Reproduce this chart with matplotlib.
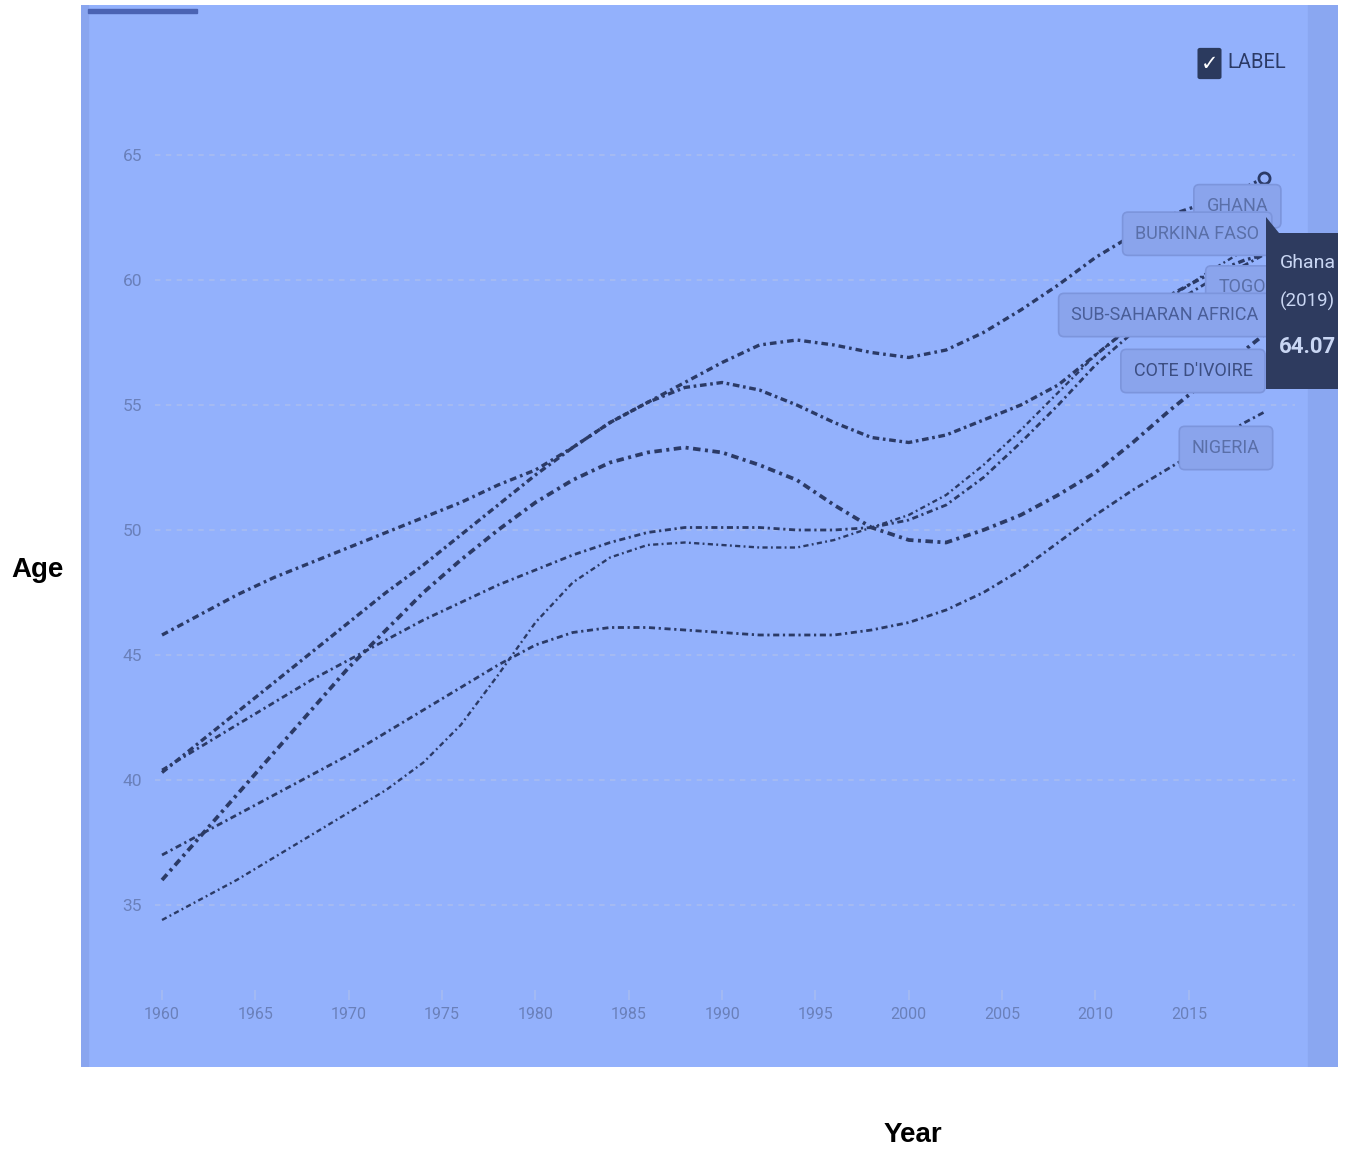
import matplotlib
matplotlib.use("Agg")
import matplotlib.pyplot as plt
from matplotlib.patches import Rectangle, Polygon, FancyBboxPatch

# --- Data (life expectancy, years) ---
years = [1960, 1962, 1964, 1966, 1968, 1970, 1972, 1974, 1976, 1978,
         1980, 1982, 1984, 1986, 1988, 1990, 1992, 1994, 1996, 1998,
         2000, 2002, 2004, 2006, 2008, 2010, 2012, 2014, 2016, 2018, 2019]

ghana = [45.8, 46.6, 47.4, 48.1, 48.7, 49.3, 49.9, 50.5, 51.1, 51.8,
         52.4, 53.3, 54.3, 55.1, 55.9, 56.7, 57.4, 57.6, 57.4, 57.1,
         56.9, 57.2, 57.9, 58.8, 59.8, 60.9, 61.8, 62.6, 63.1, 63.7, 64.07]
togo = [40.3, 41.5, 42.7, 43.9, 45.1, 46.3, 47.5, 48.6, 49.8, 51.0,
        52.2, 53.3, 54.3, 55.1, 55.7, 55.9, 55.6, 55.0, 54.3, 53.7,
        53.5, 53.8, 54.4, 55.0, 55.8, 57.0, 58.2, 59.4, 60.2, 60.8, 61.0]
cote_divoire = [36.0, 37.7, 39.4, 41.1, 42.8, 44.5, 46.0, 47.5, 48.8, 50.0,
                51.1, 52.0, 52.7, 53.1, 53.3, 53.1, 52.6, 52.0, 51.0, 50.1,
                49.6, 49.5, 50.0, 50.6, 51.4, 52.3, 53.5, 54.8, 56.0, 57.2, 57.8]
ssa = [40.4, 41.3, 42.2, 43.1, 44.0, 44.8, 45.6, 46.4, 47.1, 47.8,
       48.4, 49.0, 49.5, 49.9, 50.1, 50.1, 50.1, 50.0, 50.0, 50.1,
       50.4, 51.0, 52.1, 53.5, 55.0, 56.6, 57.9, 59.0, 59.9, 60.6, 61.0]
burkina = [34.4, 35.2, 36.0, 36.9, 37.8, 38.7, 39.6, 40.7, 42.2, 44.2,
           46.3, 47.9, 48.9, 49.4, 49.5, 49.4, 49.3, 49.3, 49.6, 50.1,
           50.6, 51.4, 52.6, 54.0, 55.5, 57.0, 58.2, 59.3, 60.3, 61.2, 61.6]
nigeria = [37.0, 37.8, 38.6, 39.4, 40.2, 41.0, 41.9, 42.8, 43.7, 44.6,
           45.4, 45.9, 46.1, 46.1, 46.0, 45.9, 45.8, 45.8, 45.8, 46.0,
           46.3, 46.8, 47.5, 48.4, 49.5, 50.6, 51.6, 52.5, 53.4, 54.3, 54.7]

y_ticks = [35, 40, 45, 50, 55, 60, 65]
x_ticks = [1960, 1965, 1970, 1975, 1980, 1985, 1990, 1995, 2000, 2005, 2010, 2015]

W, H = 1353, 1153
fig = plt.figure(figsize=(W / 100, H / 100), dpi=100)
fig.patch.set_facecolor("white")

# axes = the blue screenshot panel
L, R, T, B = 81, 1338, 5, 1067
ax = fig.add_axes([L / W, 1 - B / H, (R - L) / W, (B - T) / H])
ax.set_facecolor("#93b1fc")
for s in ax.spines.values():
    s.set_visible(False)

ax.set_xlim(1955.66, 2022.99)
ax.set_ylim(28.52, 71.0)

def fx(px):
    return (px - L) / (R - L)

def fy(py):
    return (B - py) / (B - T)

font = ["Roboto", "DejaVu Sans"]
line_col = "#2b3a66"
tick_col = "#6a80ba"

# panel decorations
ax.add_patch(Rectangle((fx(1308), 0), 1 - fx(1308), 1, transform=ax.transAxes,
                       color="#8aa7f1", zorder=0))
ax.add_patch(Rectangle((0, 0), fx(88), 1, transform=ax.transAxes,
                       color="#89a5ef", zorder=0))
ax.add_patch(Rectangle((fx(88), fy(13)), fx(197) - fx(88), fy(9) - fy(13),
                       transform=ax.transAxes, color="#4a63b3", zorder=1))

# grid
ax.hlines(y_ticks, 1959.6, 2020.7, colors="#a6bbf2", linewidth=1.3,
          linestyles=(0, (3, 3)), zorder=1)
ax.vlines(x_ticks, 31.2, 31.6, colors="#a6bbf2", linewidth=1.2, zorder=1)

ax.set_yticks(y_ticks)
ax.set_xticks(x_ticks)
ax.tick_params(axis="y", length=0, pad=-44, labelsize=12.5, labelcolor=tick_col)
ax.tick_params(axis="x", length=0, pad=-43, labelsize=11.5, labelcolor=tick_col)
for lab in ax.get_xticklabels() + ax.get_yticklabels():
    lab.set_family(font)

# series
series = [
    (ghana, 2.4, (0, (2, 1.2, 0.8, 1.2))),
    (togo, 2.4, (0, (2, 1.1, 0.8, 1.1))),
    (cote_divoire, 2.7, (0, (2, 1.2, 0.8, 1.2))),
    (ssa, 2.0, (0, (2.2, 1.3, 0.8, 1.3))),
    (burkina, 1.7, (0, (2.2, 1.4, 0.8, 1.4))),
    (nigeria, 2.0, (0, (2.2, 1.3, 0.8, 1.3))),
]
for vals, lw, ls in series:
    ax.plot(years, vals, color=line_col, linewidth=lw, linestyle=ls, zorder=3)

ax.plot([years[-1]], [ghana[-1]], "o", markersize=8, markerfacecolor="#93b1fc",
        markeredgecolor=line_col, markeredgewidth=2, zorder=4)

# end labels (stacked as in the source, later ones drawn on top)
label_box = dict(boxstyle="round,pad=0.7,rounding_size=0.3", facecolor="#8aa4ec",
                 edgecolor="#7c95dc", linewidth=1.2)
end_labels = [
    ("GHANA", 2017.6, 62.95, "#5a6fa8"),
    ("BURKINA FASO", 2015.45, 61.85, "#5a6fa8"),
    ("TOGO", 2017.85, 59.7, "#5a6fa8"),
    ("SUB-SAHARAN AFRICA", 2013.72, 58.6, "#4a5e98"),
    ("COTE D'IVOIRE", 2015.22, 56.36, "#3c4e82"),
    ("NIGERIA", 2016.99, 53.28, "#5a6fa8"),
]
for i, (txt, x, y, c) in enumerate(end_labels):
    ax.text(x, y, txt, ha="center", va="center", fontsize=13, color=c,
            family=font, bbox=label_box, zorder=5 + i)

# tooltip
tip = Polygon([(fx(1266), fy(217)), (fx(1279), fy(233)), (1.01, fy(233)),
               (1.01, fy(389)), (fx(1266), fy(389))], closed=True,
              transform=ax.transAxes, facecolor="#2e3b5f", edgecolor="none",
              zorder=20, clip_on=True)
ax.add_patch(tip)
tip_col = "#c9d6f3"
ax.text(fx(1280), fy(263), "Ghana", transform=ax.transAxes, ha="left", va="center",
        fontsize=14, color=tip_col, family=font, zorder=21, clip_on=True)
ax.text(fx(1280), fy(301), "(2019)", transform=ax.transAxes, ha="left", va="center",
        fontsize=13.5, color=tip_col, family=font, zorder=21, clip_on=True)
ax.text(fx(1279), fy(347), "64.07", transform=ax.transAxes, ha="left", va="center",
        fontsize=16, fontweight="bold", color=tip_col, family=font, zorder=21,
        clip_on=True)

# checkbox + LABEL
ax.add_patch(FancyBboxPatch((fx(1200), fy(77)), fx(1219) - fx(1200), fy(50) - fy(77),
                            boxstyle="round,pad=0.002", transform=ax.transAxes,
                            facecolor="#2b3a5e", edgecolor="none", zorder=6))
ax.text(fx(1209.5), fy(64), "\u2713", transform=ax.transAxes, ha="center", va="center",
        fontsize=15, fontweight="bold", color="white", zorder=7)
ax.text(fx(1227), fy(62), "LABEL", transform=ax.transAxes, ha="left", va="center",
        fontsize=14.5, color="#2b3a66", family=font, zorder=7)

# axis titles
fig.text(38 / W, 1 - 570 / H, "Age", ha="center", va="center", fontsize=20,
         fontweight="bold", family=["Liberation Sans", "DejaVu Sans"])
fig.text(913 / W, 1 - 1135 / H, "Year", ha="center", va="center", fontsize=20,
         fontweight="bold", family=["Liberation Sans", "DejaVu Sans"])

fig.savefig("out.png", dpi=100)
